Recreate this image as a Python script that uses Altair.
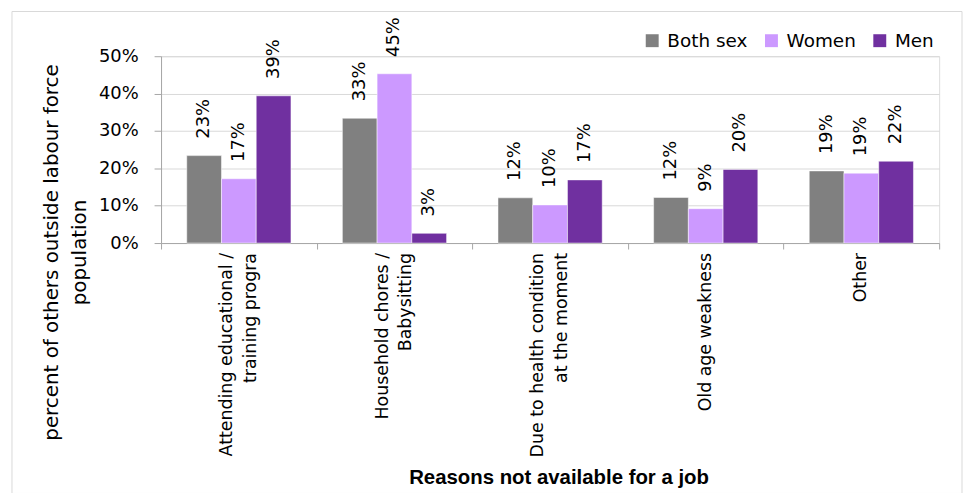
import altair as alt
import pandas as pd

categories = [
    "Attending educational /\ntraining progra",
    "Household chores /\nBabysitting",
    "Due to health condition\nat the moment",
    "Old age weakness",
    "Other",
]
series = ["Both sex", "Women", "Men"]
both_sex = [0.234, 0.334, 0.121, 0.122, 0.193]
women = [0.172, 0.453, 0.102, 0.092, 0.187]
men = [0.394, 0.026, 0.169, 0.197, 0.219]
colors = ["#808080", "#CC99FF", "#7030A0"]

rows = []
for i, c in enumerate(categories):
    for s, vals in zip(series, [both_sex, women, men]):
        rows.append({"reason": c, "sex": s, "value": vals[i]})
df = pd.DataFrame(rows)

# one row per label line, with its position in the line block
lab_rows = []
for c in categories:
    parts = c.split("\n")
    n = len(parts)
    for k, p in enumerate(parts):
        lab_rows.append({"reason": c, "line": p, "pos": k - (n - 1) / 2})
lab_df = pd.DataFrame(lab_rows)

FONT = "DejaVu Sans"

x = alt.X(
    "reason:N",
    sort=categories,
    scale=alt.Scale(paddingInner=0, paddingOuter=0),
    axis=alt.Axis(
        title="Reasons not available for a job",
        titleFont="Liberation Sans",
        titleFontSize=20.5,
        titleFontWeight="bold",
        titleColor="#000000",
        titleAlign="center",
        titleBaseline="middle",
        titleX=400,
        titleY=236,
        labels=False,
        tickBand="extent",
        tickSize=6,
        tickColor="#a6a6a6",
        domainColor="#a6a6a6",
        grid=False,
    ),
)
xo = alt.XOffset(
    "sex:N",
    sort=series,
    scale=alt.Scale(domain=series, paddingInner=0, paddingOuter=0.74),
)
y = alt.Y(
    "value:Q",
    scale=alt.Scale(domain=[0, 0.5]),
    axis=alt.Axis(
        title=["percent of others outside labour force", "population"],
        titleFont=FONT,
        titleFontSize=20,
        titleFontWeight="normal",
        titleColor="#000000",
        titleLineHeight=28,
        titleAngle=270,
        titleAlign="center",
        titleBaseline="middle",
        titleX=-110,
        titleY=197,
        titleLimit=1000,
        format=".0%",
        values=[0, 0.1, 0.2, 0.3, 0.4, 0.5],
        labelFont=FONT,
        labelFontSize=18,
        labelColor="#000000",
        labelPadding=16,
        tickSize=7,
        tickColor="#a6a6a6",
        domainColor="#a6a6a6",
        gridColor="#d9d9d9",
    ),
)

bars = alt.Chart(df).mark_bar(stroke="white", strokeWidth=0.5).encode(
    x=x,
    xOffset=xo,
    y=y,
    color=alt.Color(
        "sex:N",
        sort=series,
        scale=alt.Scale(domain=series, range=colors),
        legend=alt.Legend(
            title=None,
            orient="none",
            direction="horizontal",
            legendX=485,
            legendY=-25,
            symbolType="square",
            symbolSize=169,
            symbolStrokeWidth=0,
            labelFont=FONT,
            labelFontSize=18.5,
            labelColor="#000000",
            labelOffset=6,
            columnPadding=14,
        ),
    ),
)

labels = alt.Chart(df).mark_text(
    angle=270, align="left", baseline="middle", dx=17,
    font=FONT, fontSize=18, color="#000000",
).encode(
    x=x,
    xOffset=xo,
    y=y,
    text=alt.Text("value:Q", format=".0%"),
)


def cat_layer(pos, dy):
    return alt.Chart(lab_df).transform_filter(
        alt.datum.pos == pos
    ).mark_text(
        angle=270, align="right", baseline="middle", dy=dy,
        font=FONT, fontSize=17.5, color="#000000",
    ).encode(
        x=alt.X("reason:N", sort=categories),
        y=alt.value(198),
        text="line:N",
    )


cat_labels = [cat_layer(-0.5, -12), cat_layer(0.0, 0), cat_layer(0.5, 12)]

frame = alt.Chart(pd.DataFrame({"a": [0]})).mark_rect(
    fill="transparent", stroke="#d9d9d9", strokeWidth=1, clip=False
).encode(
    x=alt.value(-150), x2=alt.value(806), y=alt.value(-45), y2=alt.value(440)
)

chart = alt.layer(frame, bars, labels, *cat_labels).properties(
    width=783,
    height=188,
    padding={"left": 154, "top": 47, "right": 25, "bottom": 250},
    autosize=alt.AutoSizeParams(type="none"),
).configure_view(stroke=None).configure(background="white")

chart.save("out.html", embed_options={"renderer": "svg", "actions": False})
